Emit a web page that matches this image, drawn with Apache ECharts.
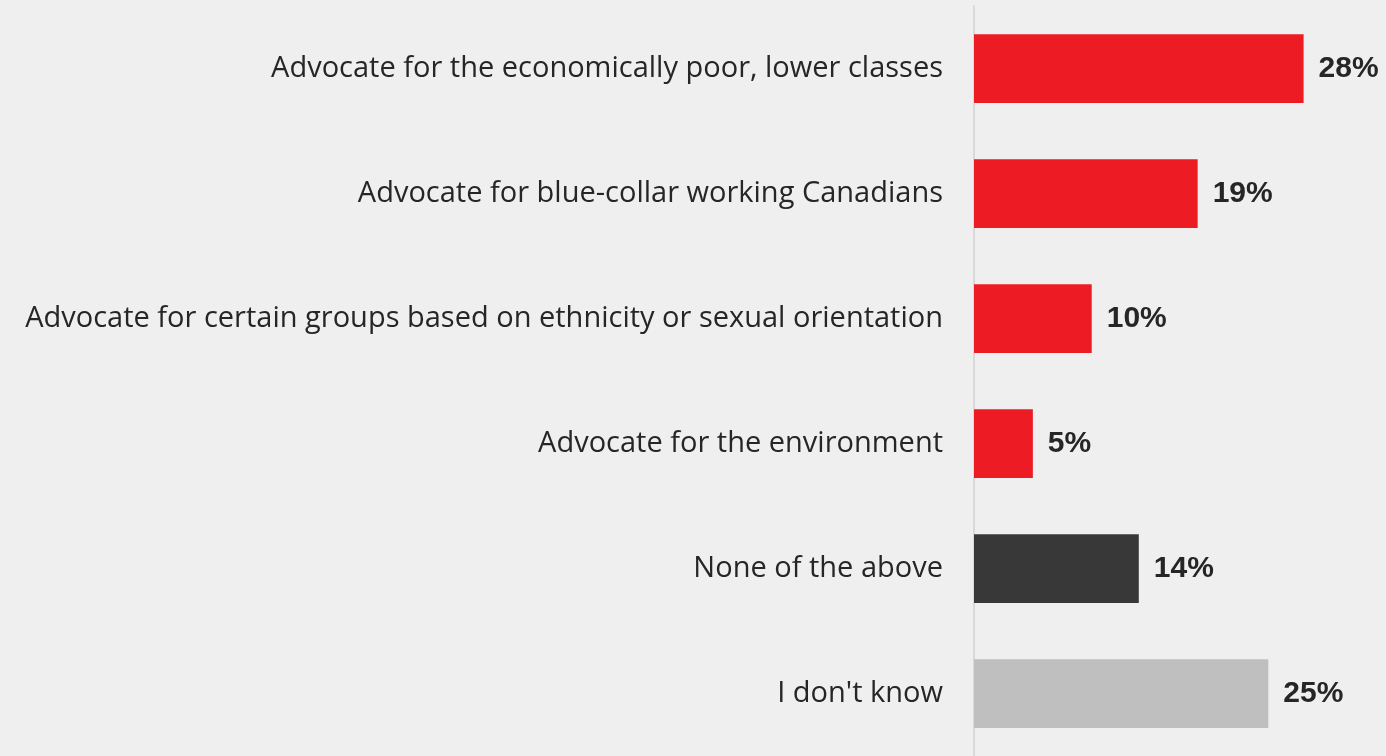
<!DOCTYPE html>
<html>
<head>
<meta charset="utf-8">
<script src="https://cdn.jsdelivr.net/npm/echarts@6/dist/echarts.min.js"></script>
<style>
html,body{margin:0;padding:0;background:#efefef;}
#chart{width:1386px;height:756px;}
</style>
</head>
<body>
<div id="chart"></div>
<script>
const categories = [
  "Advocate for the economically poor, lower classes",
  "Advocate for blue-collar working Canadians",
  "Advocate for certain groups based on ethnicity or sexual orientation",
  "Advocate for the environment",
  "None of the above",
  "I don't know"
];
const values = [28, 19, 10, 5, 14, 25];
const barColors = ["#ed1c24", "#ed1c24", "#ed1c24", "#ed1c24", "#383838", "#bfbfbf"];

const chart = echarts.init(document.getElementById('chart'));
chart.setOption({
  backgroundColor: '#efefef',
  animation: false,
  grid: { left: 974, right: 0, top: 6, bottom: -4, containLabel: false },
  xAxis: {
    type: 'value', min: 0, max: 35.0,
    show: false
  },
  yAxis: {
    type: 'category', inverse: true, data: categories,
    axisLine: { show: true, lineStyle: { color: '#d9d9d9', width: 2 } },
    axisTick: { show: false },
    axisLabel: { color: '#262626', fontSize: 29, fontFamily: 'Open Sans', margin: 31 }
  },
  series: [{
    type: 'bar',
    data: values.map((v, i) => ({ value: v, itemStyle: { color: barColors[i] } })),
    barCategoryGap: '45%',
    label: {
      show: true, position: 'right', distance: 15,
      formatter: p => p.value + '%',
      color: '#262626', fontSize: 30, fontWeight: 'bold', fontFamily: 'Liberation Sans'
    }
  }]
});
</script>
</body>
</html>
